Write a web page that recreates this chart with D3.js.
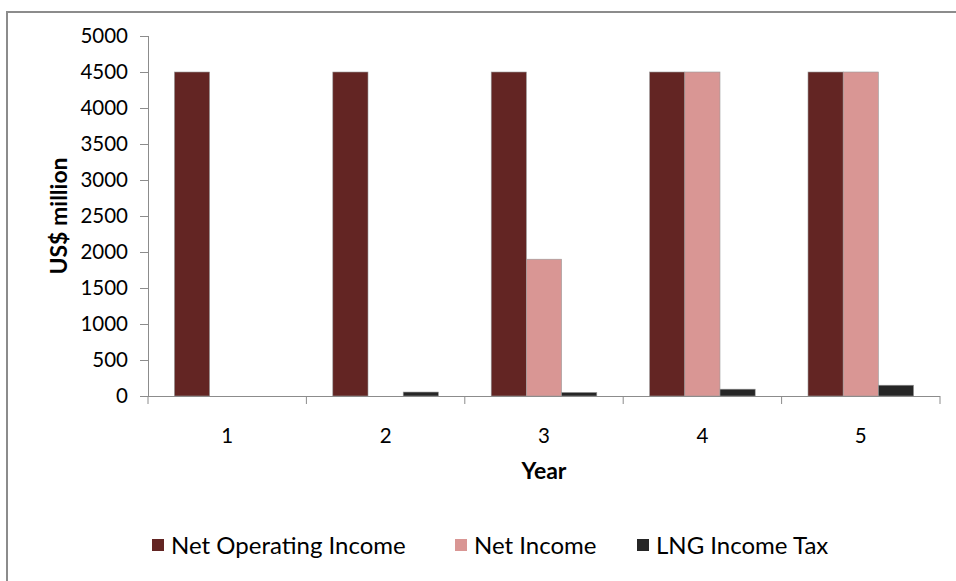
<!DOCTYPE html>
<html><head><meta charset="utf-8">
<script src="https://cdn.jsdelivr.net/npm/d3@7"></script>
<style>html,body{margin:0;padding:0;background:#fff;}svg{display:block;}</style>
</head><body>
<svg id="chart" width="956" height="581"></svg>
<script>
const years = ["1","2","3","4","5"];
const seriesNames = ["Net Operating Income","Net Income","LNG Income Tax"];
const netOperatingIncome = [4500,4500,4500,4500,4500];
const netIncome = [0,0,1900,4500,4500];
const lngIncomeTax = [0,55,50,95,150];
const yTicks = [0,500,1000,1500,2000,2500,3000,3500,4000,4500,5000];
const colors = ["#632523","#D99694","#262626"];

(function(){
const svg = d3.select("#chart");
const font = "Lato, 'Open Sans', sans-serif";
svg.append("rect").attr("x",7).attr("y",12).attr("width",1000).attr("height",1000)
  .attr("fill","#fff").attr("stroke","#8c8c8c").attr("stroke-width",2);

const pL=148, pR=940, pT=36, pB=396;
const x = d3.scaleBand().domain(years).range([pL,pR]).padding(0);
const y = d3.scaleLinear().domain([0,5000]).range([pB,pT]);
const bw = x.bandwidth()/4.5;
const offset = bw*0.75;

const data = [netOperatingIncome, netIncome, lngIncomeTax];
data.forEach((vals,si)=>{
  svg.append("g").selectAll("rect").data(vals).join("rect")
    .attr("x",(d,i)=>x(years[i])+offset+si*bw)
    .attr("y",d=>y(d))
    .attr("width",bw)
    .attr("height",d=>pB-y(d))
    .attr("fill",colors[si])
    .attr("stroke",d=>d>0?"#9a9a9a":"none").attr("stroke-width",0.6);
});

const ya = svg.append("g").attr("transform",`translate(${pL},0)`)
  .call(d3.axisLeft(y).tickValues(yTicks).tickSize(8).tickPadding(12).tickFormat(d3.format("d")));
ya.select(".domain").attr("stroke","#8c8c8c").attr("d",`M0.5,${pT}V${pB}`);
ya.selectAll(".tick line").attr("stroke","#8c8c8c");
ya.selectAll("text").attr("font-family",font).attr("font-size",20.5).attr("fill","#000");

const xa = svg.append("g").attr("transform",`translate(0,${pB})`)
  .call(d3.axisBottom(x).tickSize(0).tickPadding(32));
xa.select(".domain").attr("stroke","#8c8c8c").attr("d",`M${pL},0.5H${pR}`);
xa.selectAll("text").attr("font-family",font).attr("font-size",20.5).attr("fill","#000");
const bounds = [pL].concat(years.map(d=>x(d)+x.bandwidth()));
svg.append("g").selectAll("line").data(bounds).join("line")
  .attr("x1",d=>d).attr("x2",d=>d).attr("y1",pB).attr("y2",pB+8)
  .attr("stroke","#8c8c8c");

svg.append("text").attr("transform","translate(67,216) rotate(-90)")
  .attr("text-anchor","middle").attr("font-family",font).attr("font-weight","bold")
  .attr("font-size",23).text("US$ million");
svg.append("text").attr("x",544).attr("y",479).attr("text-anchor","middle")
  .attr("font-family",font).attr("font-weight","bold").attr("font-size",23).text("Year");

const legX = [152,455,637];
const lg = svg.append("g");
seriesNames.forEach((n,i)=>{
  lg.append("rect").attr("x",legX[i]).attr("y",539).attr("width",12).attr("height",12).attr("fill",colors[i]);
  lg.append("text").attr("x",legX[i]+19).attr("y",554).attr("font-family",font)
    .attr("font-size",24).attr("fill","#000").text(n);
});
})();
</script>
</body></html>
